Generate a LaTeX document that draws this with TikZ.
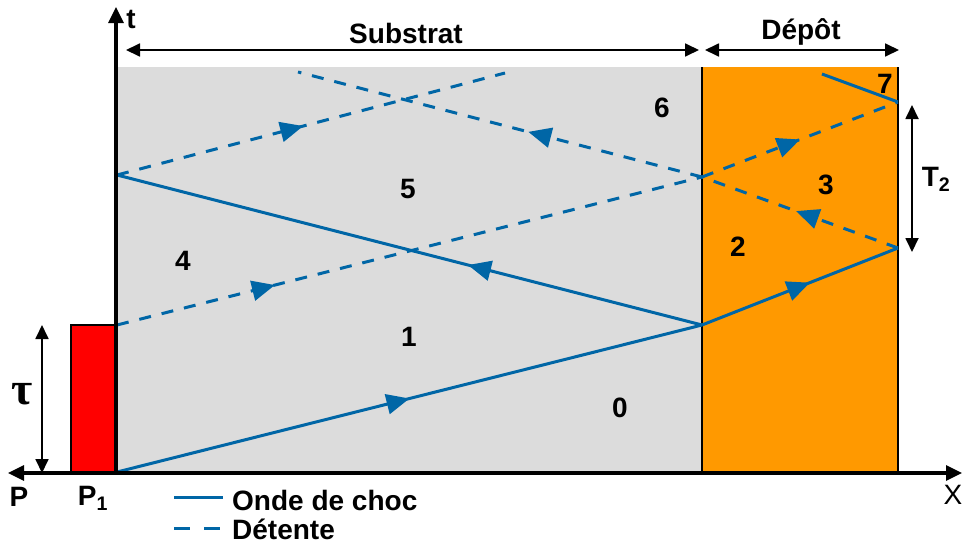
\documentclass[tikz,border=0pt]{standalone}
\usepackage{fontspec}
\setmainfont{Liberation Sans}
\newfontfamily\taufont{Liberation Serif}
\usetikzlibrary{arrows.meta,decorations.markings}
\definecolor{wave}{RGB}{0,102,166}
\definecolor{subgray}{RGB}{220,220,220}
\definecolor{depor}{RGB}{255,153,0}
\begin{document}
\begin{tikzpicture}[x=1pt,y=-1pt,
  shock/.style={wave,line width=3pt},
  det/.style={wave,line width=3pt,dash pattern=on 12pt off 11pt},
  midarrow/.style={postaction={decorate},decoration={markings,
     mark=at position #1 with {\arrow[wave]{Triangle[length=23pt,width=20pt]}}}},
  dim/.style={black,line width=1.8pt,{Triangle[length=14pt,width=13pt]}-{Triangle[length=14pt,width=13pt]}},
  lbl/.style={font=\fontsize{28}{32}\selectfont\bfseries,inner sep=0pt},
  axlbl/.style={font=\fontsize{28}{32}\selectfont,inner sep=0pt}]
\useasboundingbox (0,0) rectangle (963,546);
% regions
\fill[subgray] (117,67) rectangle (702,473);
\fill[depor] (702,67) rectangle (898,473);
\draw[black,line width=1.2pt] (702,67) -- (702,473);
\draw[black,line width=1.2pt] (898,67) -- (898,473);
\draw[black,line width=1.4pt,fill=red] (71,325) rectangle (117,473);
% key points
\coordinate (O) at (117,472);
\coordinate (A) at (702,325);
\coordinate (B) at (898,248);
\coordinate (C) at (702,177);
\coordinate (D) at (898,102);
\coordinate (E) at (822,74);
\coordinate (F) at (117,325);
\coordinate (G) at (117,175);
\coordinate (H) at (505,73);
\coordinate (I) at (298,72);
% shock waves
\draw[shock,midarrow=0.5] (O) -- (A);
\draw[shock,midarrow=0.55] (A) -- (B);
\draw[shock,midarrow=0.40] (A) -- (G);
\draw[shock] (E) -- (D);
% release waves
\draw[det,midarrow=0.27] (F) -- (C);
\draw[det,midarrow=0.5] (C) -- (D);
\draw[det,midarrow=0.52] (B) -- (C);
\draw[det,midarrow=0.48] (G) -- (H);
\draw[det,midarrow=0.43] (C) -- (I);
% axes
\coordinate (xl) at (8,473);
\coordinate (xr) at (962,473);
\coordinate (yb) at (116,473);
\coordinate (yt) at (116,7);
\draw[black,line width=3.2pt,-{Triangle[length=16pt,width=15pt]}] (yb) -- (yt);
\draw[black,line width=3.2pt,{Triangle[length=16pt,width=15pt]}-{Triangle[length=16pt,width=15pt]}] (xl) -- (xr);
% dimension arrows
\coordinate (s1) at (126,50); \coordinate (s2) at (699,50);
\coordinate (d1) at (705,50); \coordinate (d2) at (899,50);
\draw[dim] (s1) -- (s2);
\draw[dim] (d1) -- (d2);
\coordinate (t1) at (912,105); \coordinate (t2) at (912,252);
\draw[dim] (t1) -- (t2);
\coordinate (u1) at (42,325); \coordinate (u2) at (42,473);
\draw[dim] (u1) -- (u2);
% labels
\node[lbl] (lsub) at (406,33) {Substrat};
\node[lbl] (ldep) at (801,32) {Dépôt};
\node[lbl] (lt) at (131,19) {t};
\node[lbl] (lT2) at (936,179) {T\textsubscript{2}};
\node[font=\fontsize{46}{48}\selectfont\taufont\bfseries,inner sep=0pt] (ltau) at (22,394) {τ};
\node[lbl] (lP) at (19,497) {P};
\node[lbl] (lP1) at (93,498) {P\textsubscript{1}};
\node[axlbl] (lX) at (953,495) {X};
\node[lbl] (r0) at (620,408) {0};
\node[lbl] (r1) at (409,337) {1};
\node[lbl] (r2) at (738,247) {2};
\node[lbl] (r3) at (826,185) {3};
\node[lbl] (r4) at (183,261) {4};
\node[lbl] (r5) at (408,189) {5};
\node[lbl] (r6) at (662,108) {6};
\node[lbl] (r7) at (885,84) {7};
% legend
\coordinate (l1a) at (174,497); \coordinate (l1b) at (223,497);
\coordinate (l2a) at (174,528); \coordinate (l2b) at (223,528);
\draw[shock] (l1a) -- (l1b);
\draw[wave,line width=3pt,dash pattern=on 16pt off 14pt] (l2a) -- (l2b);
\node[lbl,anchor=base west] (leg1) at (232,510) {Onde de choc};
\node[lbl,anchor=base west] (leg2) at (232,539) {Détente};
\end{tikzpicture}
\end{document}
